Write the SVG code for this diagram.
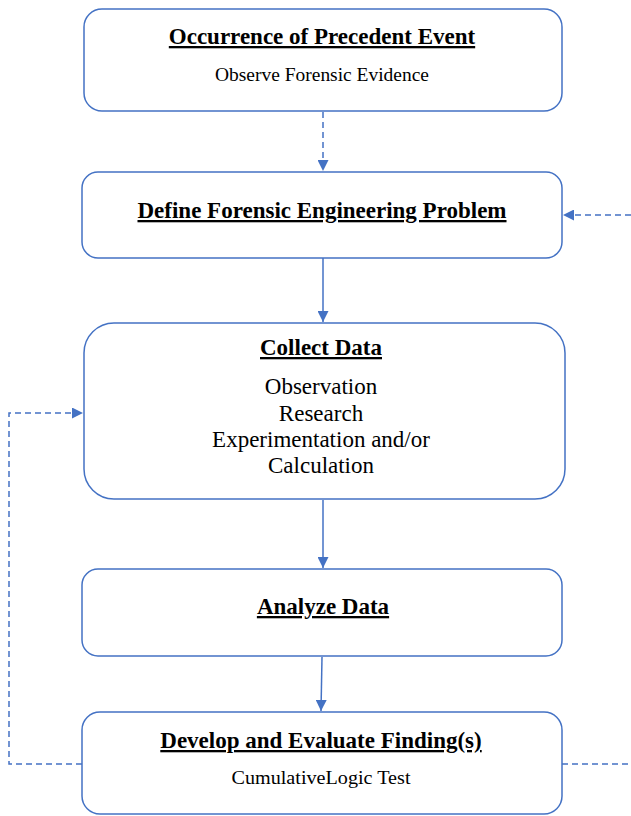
<svg xmlns="http://www.w3.org/2000/svg" width="631" height="816" viewBox="0 0 631 816">
<style>
.box{fill:#fff;stroke:#4472C4;stroke-width:1.5}
.t{font-family:"Liberation Serif","Times New Roman",serif;font-weight:bold;font-size:23px;text-decoration:underline;fill:#000;text-anchor:middle}
.s{font-family:"Liberation Serif","Times New Roman",serif;font-size:18px;fill:#000;text-anchor:middle}
.m{font-family:"Liberation Serif","Times New Roman",serif;font-size:23px;fill:#000;text-anchor:middle}
.c{fill:none;stroke:#4472C4;stroke-width:1.5}
.d{stroke-dasharray:6 4}
</style>
<defs>
<marker id="ah" viewBox="0 0 10 10" refX="10" refY="5" markerWidth="11" markerHeight="11" markerUnits="userSpaceOnUse" orient="auto">
<path d="M0,0 L10,5 L0,10 z" fill="#4472C4"/>
</marker>
</defs>
<rect width="631" height="816" fill="#fff"/>
<g id="connectors">
<line class="c d" x1="323" y1="112" x2="323" y2="171" marker-end="url(#ah)"/>
<line class="c" x1="323" y1="258" x2="323" y2="322" marker-end="url(#ah)"/>
<line class="c" x1="323" y1="500" x2="323" y2="568" marker-end="url(#ah)"/>
<line class="c" x1="322" y1="657" x2="321" y2="711" marker-end="url(#ah)"/>
<polyline class="c d" points="82,764 9,764 9,413 83,413" marker-end="url(#ah)"/>
<line class="c d" x1="562" y1="764" x2="631" y2="764"/>
<line class="c d" x1="631" y1="215" x2="563" y2="215" marker-end="url(#ah)"/>
</g>
<g id="n1">
<rect class="box" x="84" y="9" width="478" height="102" rx="18"/>
<text class="t" x="322" y="44">Occurrence of Precedent Event</text>
<text class="s" x="322" y="81" textLength="214" lengthAdjust="spacingAndGlyphs">Observe Forensic Evidence</text>
</g>
<g id="n2">
<rect class="box" x="82" y="172" width="480" height="86" rx="16"/>
<text class="t" x="322" y="218">Define Forensic Engineering Problem</text>
</g>
<g id="n3">
<rect class="box" x="84" y="323" width="481" height="176" rx="30"/>
<text class="t" x="321" y="355">Collect Data</text>
<text class="m" x="321" y="394">Observation</text>
<text class="m" x="321" y="421">Research</text>
<text class="m" x="321" y="447">Experimentation and/or</text>
<text class="m" x="321" y="473">Calculation</text>
</g>
<g id="n4">
<rect class="box" x="82" y="569" width="480" height="87" rx="16"/>
<text class="t" x="323" y="614">Analyze Data</text>
</g>
<g id="n5">
<rect class="box" x="82" y="712" width="480" height="102" rx="18"/>
<text class="t" x="321" y="748">Develop and Evaluate Finding(s)</text>
<text class="s" x="321" y="784" textLength="179" lengthAdjust="spacingAndGlyphs">CumulativeLogic Test</text>
</g>
</svg>
